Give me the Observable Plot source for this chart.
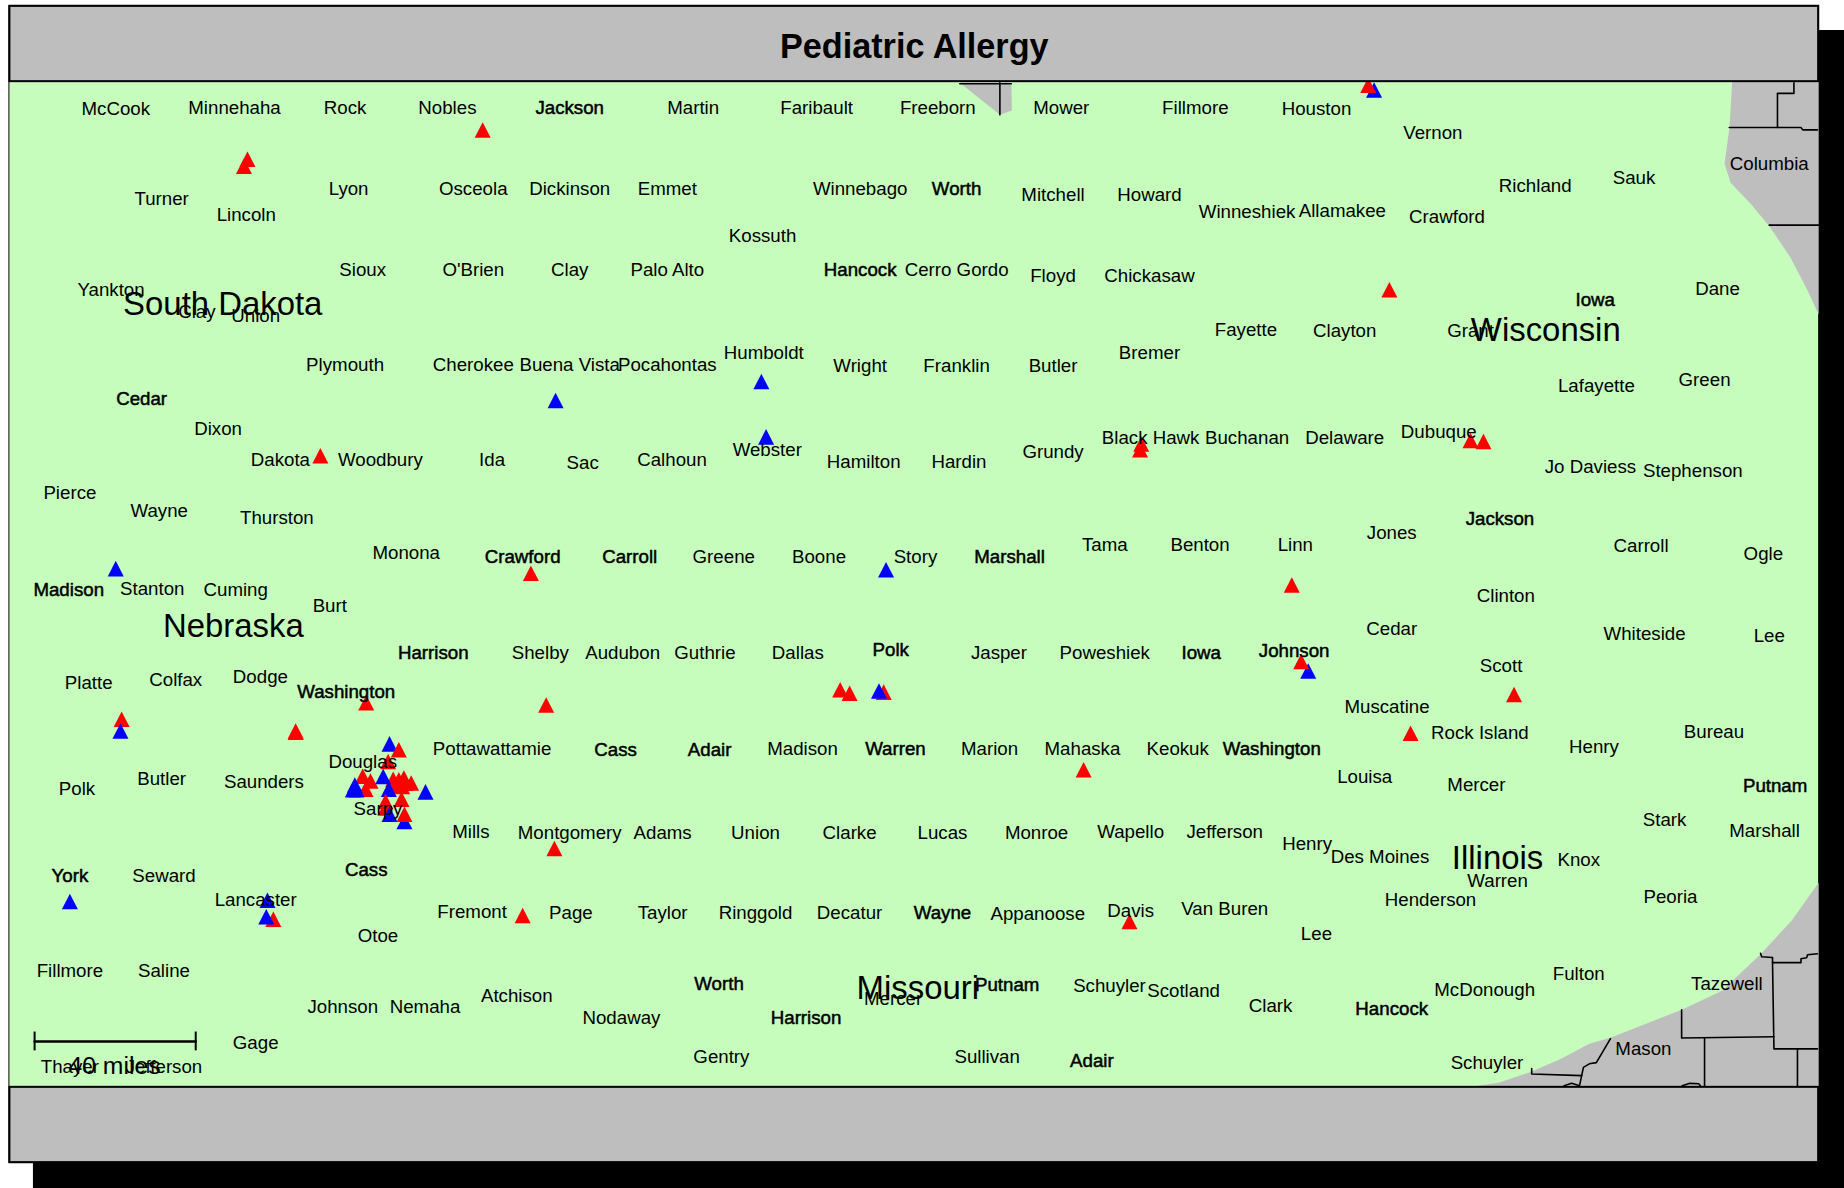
<!DOCTYPE html>
<html><head><meta charset="utf-8">
<style>html,body{margin:0;padding:0;background:#fff;overflow:hidden}svg{display:block}</style>
<script src="https://cdn.jsdelivr.net/npm/d3@7"></script>
<script src="https://cdn.jsdelivr.net/npm/@observablehq/plot@0.6"></script>
</head><body><div id="chart"></div>
<script>
const chartTitle = "Pediatric Allergy";
const scaleLabel = "40 miles";
const stateLabels = [["South Dakota",189,258.5],["Nebraska",198,532.5],["Wisconsin",1314,280.5],["Illinois",1273,729.5],["Missouri",780,840]];
const countyLabels = [
["McCook",98,92],["Minnehaha",199,91],["Rock",293,91],["Nobles",380,91],["Martin",589,91],["Faribault",694,91],["Freeborn",797,91],["Mower",902,91],["Fillmore",1016,91],["Houston",1119,92],["Vernon",1218,113],
["Turner",137,169],["Lincoln",209,182],["Lyon",296,160],["Osceola",402,160],["Dickinson",484,160],["Emmet",567,160],["Winnebago",731,160],["Mitchell",895,165],["Howard",977,165],["Winneshiek",1060,180],["Allamakee",1141,179],["Crawford",1230,184],["Richland",1305,158],["Sauk",1389,151],["Columbia",1504,139],
["Kossuth",648,200],["Yankton",94,246],["Clay",167,265],["Union",217,268],["Sioux",308,229],["O'Brien",402,229],["Clay",484,229],["Palo Alto",567,229],["Cerro Gordo",813,229],["Floyd",895,234],["Chickasaw",977,234],["Fayette",1059,280],["Clayton",1143,281],["Grant",1250,281],["Dane",1460,245],
["Plymouth",293,310],["Cherokee",402,310],["Buena Vista",484,310],["Pocahontas",567,310],["Humboldt",649,300],["Wright",731,311],["Franklin",813,311],["Butler",895,311],["Bremer",977,300],["Lafayette",1357,328],["Green",1449,323],
["Dixon",185,364],["Dakota",238,391],["Woodbury",323,391],["Ida",418,391],["Sac",495,393],["Calhoun",571,391],["Webster",652,382],["Hamilton",734,392],["Hardin",815,392],["Grundy",895,384],["Black Hawk",978,372],["Buchanan",1060,372],["Delaware",1143,372],["Dubuque",1223,367],["Jo Daviess",1352,397],["Stephenson",1439,400],
["Pierce",59,419],["Wayne",135,434],["Thurston",235,440],["Monona",345,470],["Greene",615,473],["Boone",696,473],["Story",778,473],["Tama",939,463],["Benton",1020,463],["Linn",1101,463],["Jones",1183,453],["Carroll",1395,464],["Ogle",1499,471],
["Stanton",129,500],["Cuming",200,501],["Burt",280,515],["Clinton",1280,506],["Whiteside",1398,539],["Lee",1504,540],["Cedar",1183,534],
["Shelby",459,555],["Audubon",529,555],["Guthrie",599,555],["Dallas",678,555],["Jasper",849,555],["Poweshiek",939,555],["Scott",1276,566],
["Platte",75,580],["Colfax",149,578],["Dodge",221,575],["Muscatine",1179,601],["Rock Island",1258,623],["Bureau",1457,622],["Henry",1355,635],
["Pottawattamie",418,636],["Madison",682,636],["Marion",841,636],["Mahaska",920,636],["Keokuk",1001,636],["Douglas",308,647],
["Polk",65,670],["Butler",137,662],["Saunders",224,664],["Louisa",1160,660],["Mercer",1255,667],["Stark",1415,697],["Marshall",1500,706],
["Sarpy",321,687],["Mills",400,707],["Montgomery",484,708],["Adams",563,708],["Union",642,708],["Clarke",722,708],["Lucas",801,708],["Monroe",881,708],["Wapello",961,707],["Jefferson",1041,707],["Henry",1111,717],["Des Moines",1173,728],["Knox",1342,731],["Warren",1273,749],
["Seward",139,744],["Lancaster",217,765],["Henderson",1216,765],["Peoria",1420,762],
["Fremont",401,775],["Page",485,776],["Taylor",563,776],["Ringgold",642,776],["Decatur",722,776],["Appanoose",882,777],["Davis",961,774],["Van Buren",1041,772],["Otoe",321,795],["Lee",1119,794],
["Fillmore",59,825],["Saline",139,825],["Tazewell",1468,836],["Fulton",1342,828],["McDonough",1262,841],["Schuyler",943,838],["Scotland",1006,842],["Atchison",439,846],["Johnson",291,856],["Nemaha",361,856],["Mercer",759,849],["Clark",1080,855],["Nodaway",528,865],["Gage",217,886],["Mason",1397,891],["Gentry",613,898],["Sullivan",839,898],["Schuyler",1264,903],["Thayer",59,907],["Jefferson",139,907]
];
const repeatedCountyLabels = [
["Jackson",484,91],["Worth",813,160],["Hancock",731,229],["Iowa",1356,255],["Cedar",120,339],["Crawford",444,473],["Carroll",535,473],["Marshall",858,473],["Jackson",1275,441],["Madison",58,501],
["Harrison",368,555],["Polk",757,552],["Iowa",1021,555],["Johnson",1100,553],["Washington",294,588],["Cass",523,637],["Adair",603,637],["Warren",761,636],["Washington",1081,636],["Putnam",1509,668],
["York",59,744],["Cass",311,739],["Wayne",801,776],["Worth",611,836],["Putnam",856,837],["Hancock",1183,857],["Harrison",685,865],["Adair",928,902]
];
const patientSites = [
["B",1168,76],["R",1163,72],["R",410,110],["R",210,135],["R",207,141],["R",272,387],["R",451,487],["R",311,597],["R",464,599],["R",103,611],["B",102,621],["R",251,622],["R",251,621],
["R",1181,246],["B",472,340],["B",647,324],["B",651,371],["R",970,377],["R",969,382],["R",1250,374],["R",1261,375],["B",753,484],["B",98,483],
["R",714,586],["R",722,589],["R",751,588],["B",747,587],["R",921,654],["R",1287,590],["R",1199,623],["R",1098,497],["B",1112,570],["R",1106,562],
["R",471,721],["R",444,778],["R",960,783],["B",59,766],["B",227,765],["R",232,781],["B",226,779],
["B",330.8,632],["R",338.7,637],["R",329.6,647],["R",308,659.5],["R",314.6,663.5],["R",310.4,670.6],["B",301.3,667],["B",299.6,671],["B",302.7,671],
["R",333.9,662],["R",338.7,662.4],["R",343,661],["R",344.4,665.5],["R",349.2,665.2],["R",336.7,667.7],["R",341.5,668.3],["B",325.4,659.8],["B",330.2,670.6],["B",361.4,672.8],
["R",341,679],["R",327.4,681],["R",327.4,686.4],["B",330.8,691.8],["B",343.5,698],["R",343.5,691.8]
];
const seriesNames = ["R","B"];
const outsideAreas = [
[[815.7,70],[849.8,97.2],[860,93.5],[859.5,70]],
[[1472.5,69],[1470.2,108],[1466,138.6],[1471,154.8],[1488,172.6],[1504.3,192.2],[1522,218.5],[1536.6,246.6],[1546,267],[1546,69]],
[[1247.5,924],[1274,920],[1300,911.3],[1326.6,899.8],[1351,887],[1369,881.8],[1429.5,858],[1464,841.8],[1497,810.4],[1523,782.3],[1546,750],[1546,924]]
];
const boundaries = [
[[849.8,70],[849.8,97.2]],[[815.7,70.8],[859.5,70.8]],
[[1470,108],[1531,108],[1532.5,110],[1545,110]],[[1511,108],[1511,79],[1525,79],[1525,70]],[[1504,191],[1546,191]],
[[1302,908],[1302,912.7],[1344.5,914],[1346,907],[1351,904],[1357,903],[1362,894.4],[1369,882.6]],[[1344.5,914],[1342.7,922.6],[1336,920.6],[1329.6,922.6]],
[[1429.5,858],[1429.5,882],[1508,881]],[[1449,882],[1449,923]],
[[1496.6,810],[1497.6,813],[1506.8,813.6],[1506.8,818],[1531,818],[1531,814.7],[1535.8,813.8],[1536.6,811.3],[1545,810.4]],
[[1506.8,818],[1508,891.3],[1545,891.3]],[[1528,891.3],[1528,923]],[[1430,922.6],[1436.5,920.6],[1444,921],[1445.5,922.6]]
];
const scaleBar = [[29,885],[166,885]];
const scaleTicks = [[29,877,893],[166,877,893]];
const shadowBox = [{x1:28,x2:1568,y1:25.5,y2:1010}];
const frameBox = [{x1:8,x2:1546,y1:5,y2:988}];
const mapBox = [{x1:8,x2:1546,y1:69.5,y2:923.5}];
const titleBox = [{x1:8,x2:1546,y1:5,y2:69}];
const footBox = [{x1:8,x2:1546,y1:924,y2:988}];

const font = "Liberation Sans, Arial, sans-serif";
const pt = ([x,y]) => ({x,y});
const text = (rows, o) => Plot.text(rows, {x:d=>d[1], y:d=>d[2], text:d=>d[0], textAnchor:"middle", lineAnchor:"middle", fontFamily:font, fill:"#000", ...o});
const triangle = {draw(c,size){const a=Math.sqrt(size/Math.PI);c.moveTo(0,-a*0.97);c.lineTo(a,a*0.97);c.lineTo(-a,a*0.97);c.closePath();}};
const boundaryRows = boundaries.flatMap((b,i)=>b.map(p=>({...pt(p),i})));

const chart = Plot.plot({
  width:1844, height:1188, margin:0,
  style:{background:"#fff"},
  x:{domain:[0,1568],range:[0,1844],axis:null},
  y:{domain:[0,1010],range:[0,1188],axis:null},
  color:{domain:seriesNames,range:["#ff0000","#0000ff"]},
  marks:[
    Plot.rect(shadowBox,{x1:"x1",x2:"x2",y1:"y1",y2:"y2",fill:"#000"}),
    Plot.rect(frameBox,{x1:"x1",x2:"x2",y1:"y1",y2:"y2",fill:"#bebebe",stroke:"#000",strokeWidth:2}),
    Plot.rect(mapBox,{x1:"x1",x2:"x2",y1:"y1",y2:"y2",fill:"#c6fdbd"}),
    ...outsideAreas.map(a=>Plot.line(a.map(pt),{x:"x",y:"y",fill:"#bebebe",stroke:"none"})),
    Plot.line(boundaryRows,{x:"x",y:"y",z:"i",stroke:"#000",strokeWidth:1.6,strokeLinejoin:"round"}),
    Plot.dot(patientSites,{x:d=>d[1],y:d=>d[2],fill:d=>d[0],r:8,symbol:triangle,stroke:"none"}),
    text(countyLabels,{fontSize:18.7}),
    text(repeatedCountyLabels,{fontSize:18.7,stroke:"#000",strokeWidth:0.5}),
    text(stateLabels,{fontSize:32.9}),
    Plot.line(scaleBar.map(pt),{x:"x",y:"y",stroke:"#000",strokeWidth:2.5}),
    Plot.ruleX(scaleTicks,{x:d=>d[0],y1:d=>d[1],y2:d=>d[2],stroke:"#000",strokeWidth:2}),
    text([[scaleLabel,97,906]],{fontSize:24.8}),
    Plot.rect(titleBox,{x1:"x1",x2:"x2",y1:"y1",y2:"y2",fill:"#bebebe",stroke:"#000",strokeWidth:2}),
    Plot.rect(footBox,{x1:"x1",x2:"x2",y1:"y1",y2:"y2",fill:"#bebebe",stroke:"#000",strokeWidth:2}),
    text([[chartTitle,777,39.7]],{fontSize:34.2,fontWeight:"bold"})
  ]
});
document.getElementById("chart").append(chart);
</script></body></html>
